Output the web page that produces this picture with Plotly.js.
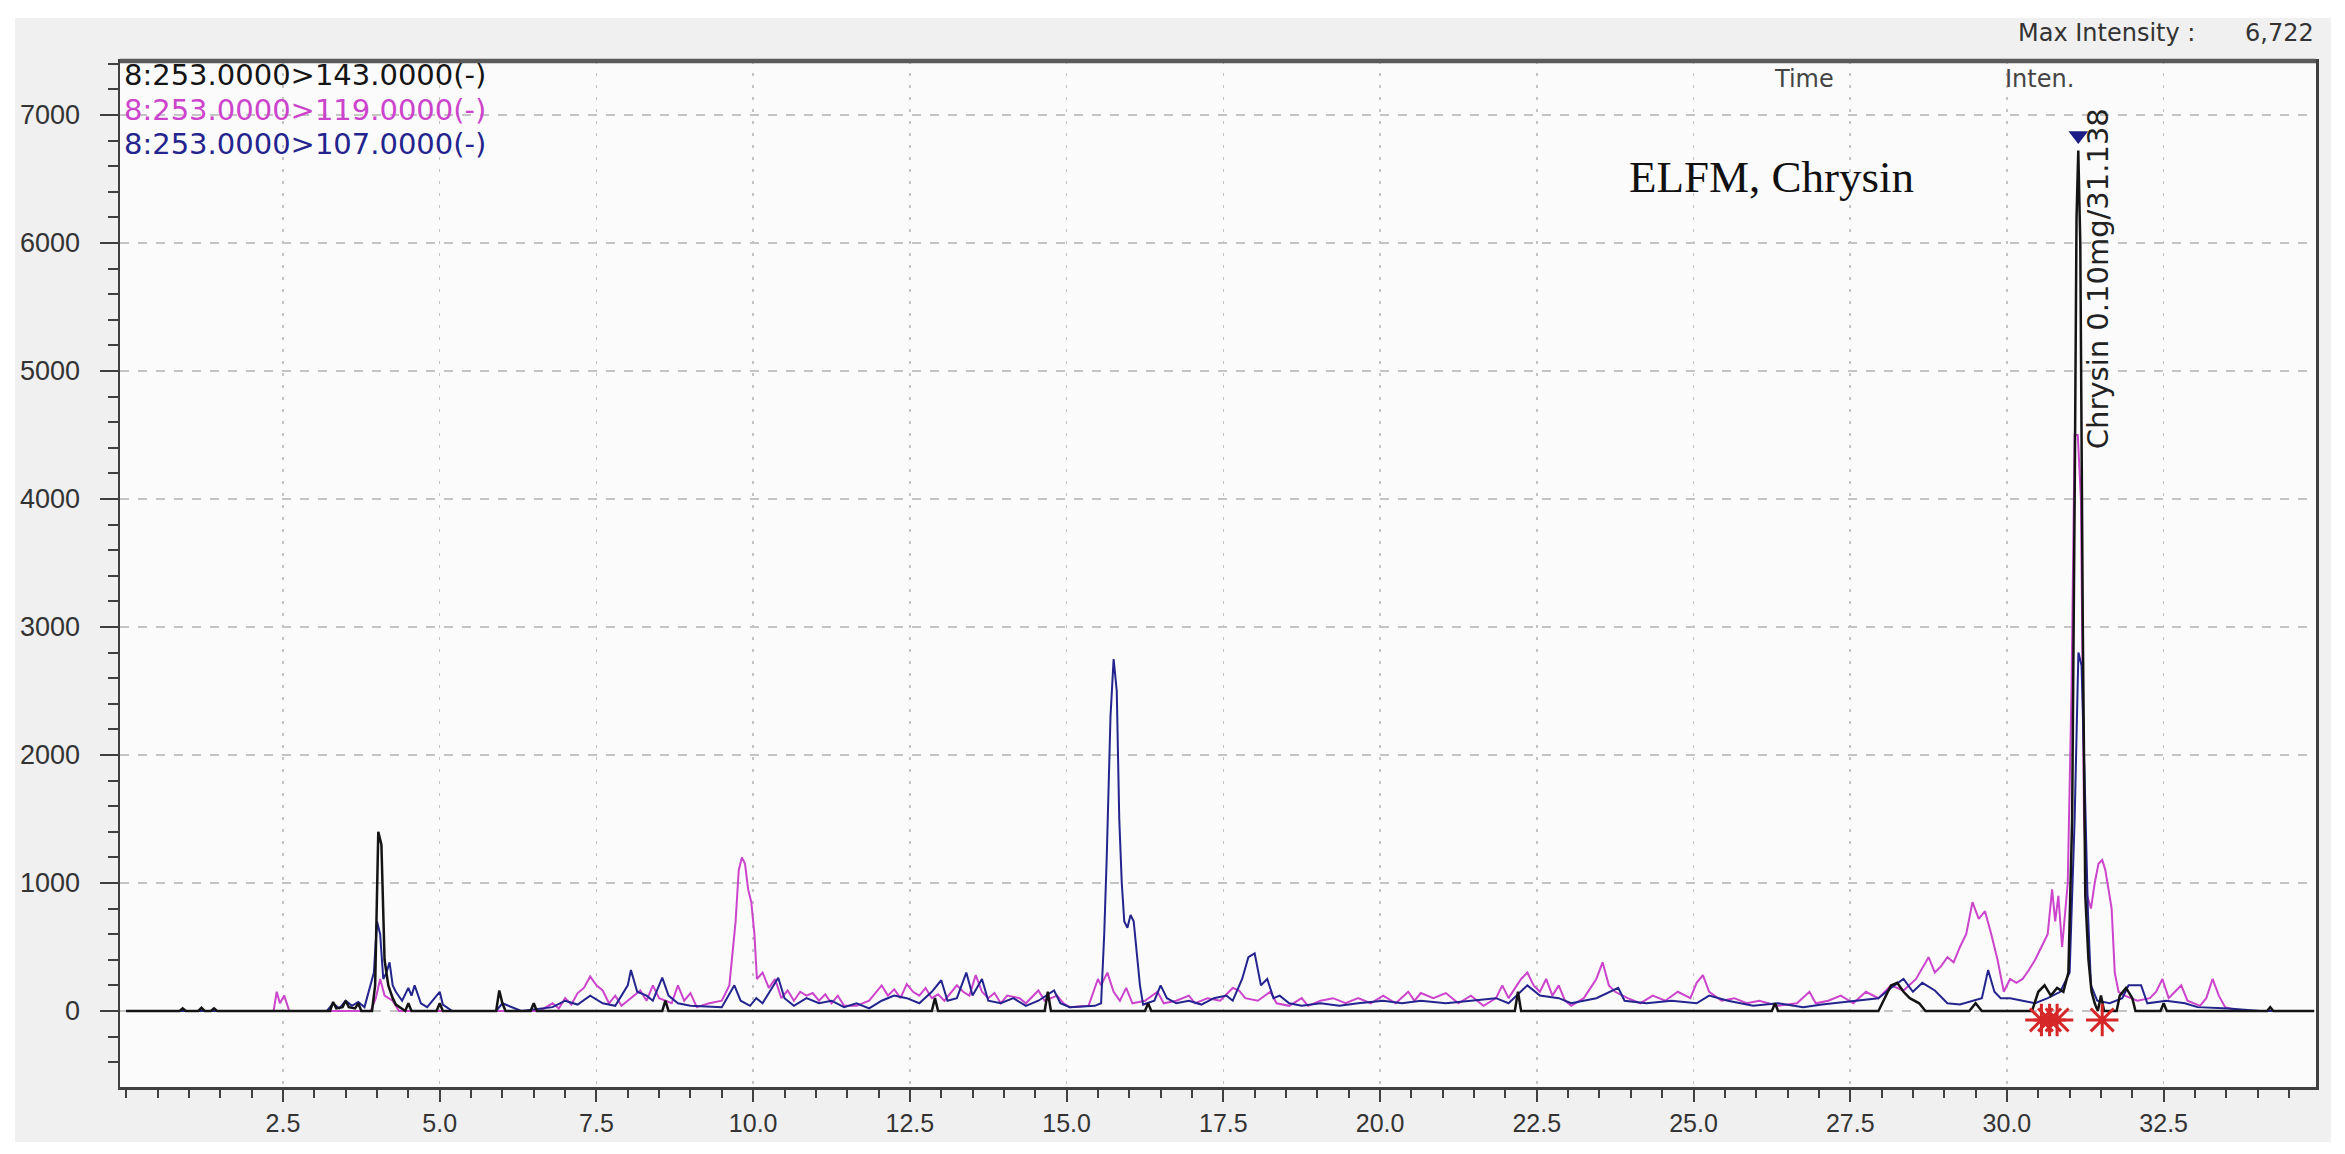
<!DOCTYPE html>
<html>
<head>
<meta charset="utf-8">
<script src="https://cdn.plot.ly/plotly-3.0.1.min.js"></script>
<style>
  html, body { margin: 0; padding: 0; background: #ffffff; }
  #chart { position: absolute; left: 15px; top: 18px; width: 2316px; height: 1124px; }
</style>
</head>
<body>
<div id="chart"></div>
<script>
// MRM channels 8:253.0000 > product ions
const channelNames = ["8:253.0000>143.0000(-)", "8:253.0000>119.0000(-)", "8:253.0000>107.0000(-)"];
const channelColors = ["#141414", "#cc44cc", "#24248e"];

// 253 > 143 (black)
const time143 = [
  0.0, 0.85, 0.9, 0.95, 1.15, 1.2, 1.25, 1.35, 1.4, 1.45,
  3.25, 3.3, 3.35, 3.45, 3.5, 3.55, 3.65, 3.7, 3.75, 3.92,
  3.97, 4.02, 4.07, 4.12, 4.18, 4.25, 4.3, 4.45, 4.5, 4.55,
  4.95, 5.0, 5.05, 5.9, 5.95, 6.0, 6.05, 6.45, 6.5, 6.55,
  8.55, 8.6, 8.65, 12.85, 12.9, 12.95, 14.65, 14.7, 14.75, 16.25,
  16.3, 16.35, 22.15, 22.2, 22.25, 26.25, 26.3, 26.35, 27.95, 28.05,
  28.15, 28.25, 28.35, 28.45, 28.6, 28.7, 29.4, 29.5, 29.6, 30.4,
  30.5, 30.6, 30.7, 30.8, 30.9, 30.98, 31.04, 31.08, 31.11, 31.138,
  31.17, 31.21, 31.25, 31.3, 31.35, 31.4, 31.45, 31.5, 31.55, 31.75,
  31.8, 31.9, 32.0, 32.05, 32.45, 32.5, 32.55, 34.15, 34.2, 34.25, 34.9
];
const inten143 = [
  0, 0, 20, 0, 0, 25, 0, 0, 20, 0,
  0, 70, 20, 30, 80, 30, 20, 60, 0, 0,
  200, 1400, 1300, 400, 200, 100, 50, 0, 60, 0,
  0, 60, 0, 0, 160, 60, 0, 0, 60, 0,
  0, 80, 0, 0, 100, 0, 0, 150, 0, 0,
  60, 0, 0, 150, 0, 0, 60, 0, 0, 100,
  200, 220, 150, 100, 60, 0, 0, 60, 0, 0,
  150, 200, 120, 180, 150, 300, 1500, 4000, 6200, 6722,
  6000, 3000, 900, 400, 150, 60, 0, 120, 0, 0,
  120, 180, 100, 0, 0, 60, 0, 0, 30, 0, 0
];

// 253 > 119 (magenta)
const time119 = [
  0.0, 2.35, 2.4, 2.45, 2.52, 2.6, 3.9, 3.98, 4.05, 4.12,
  4.25, 4.35, 6.6, 6.8, 6.9, 7.0, 7.1, 7.2, 7.3, 7.4,
  7.5, 7.6, 7.7, 7.8, 7.9, 8.2, 8.3, 8.4, 8.5, 8.7,
  8.8, 8.9, 9.0, 9.1, 9.3, 9.5, 9.62, 9.72, 9.77, 9.82,
  9.87, 9.92, 9.97, 10.02, 10.06, 10.15, 10.25, 10.35, 10.45, 10.55,
  10.65, 10.75, 10.85, 10.95, 11.05, 11.15, 11.25, 11.35, 11.45, 11.65,
  11.85, 12.05, 12.15, 12.25, 12.35, 12.45, 12.55, 12.65, 12.75, 12.85,
  12.95, 13.05, 13.25, 13.35, 13.45, 13.55, 13.65, 13.75, 13.85, 13.95,
  14.05, 14.25, 14.35, 14.55, 14.65, 14.85, 14.95, 15.05, 15.35, 15.5,
  15.55, 15.65, 15.75, 15.85, 15.95, 16.05, 16.25, 16.45, 16.55, 16.75,
  16.95, 17.05, 17.25, 17.45, 17.65, 17.75, 17.85, 18.05, 18.25, 18.35,
  18.55, 18.75, 18.85, 19.05, 19.25, 19.45, 19.65, 19.85, 20.05, 20.25,
  20.45, 20.55, 20.65, 20.85, 21.05, 21.25, 21.45, 21.65, 21.85, 21.95,
  22.05, 22.25, 22.35, 22.45, 22.55, 22.65, 22.75, 22.85, 22.95, 23.05,
  23.25, 23.45, 23.55, 23.65, 23.75, 23.95, 24.15, 24.35, 24.55, 24.75,
  24.95, 25.05, 25.15, 25.25, 25.45, 25.65, 25.85, 26.05, 26.35, 26.65,
  26.85, 26.95, 27.15, 27.35, 27.55, 27.75, 27.95, 28.15, 28.35, 28.55,
  28.75, 28.85, 28.95, 29.05, 29.15, 29.25, 29.35, 29.45, 29.55, 29.65,
  29.75, 29.85, 29.95, 30.05, 30.15, 30.25, 30.35, 30.45, 30.55, 30.65,
  30.72, 30.77, 30.82, 30.88, 30.97, 31.03, 31.08, 31.13, 31.18, 31.23,
  31.28, 31.34, 31.4, 31.46, 31.52, 31.57, 31.62, 31.67, 31.72, 31.78,
  31.88, 31.98, 32.08, 32.28, 32.38, 32.48, 32.58, 32.68, 32.78, 32.88,
  33.08, 33.18, 33.28, 33.38, 33.48, 33.7, 34.9
];
const inten119 = [
  0, 0, 150, 60, 120, 0, 0, 100, 250, 120,
  80, 0, 0, 60, 20, 100, 50, 140, 180, 270,
  200, 160, 60, 120, 40, 160, 80, 200, 100, 60,
  200, 80, 140, 30, 60, 80, 200, 700, 1100, 1200,
  1150, 950, 850, 600, 250, 300, 180, 250, 100, 160,
  80, 150, 120, 140, 80, 130, 60, 120, 40, 40,
  80, 200, 120, 170, 100, 210, 150, 120, 180, 100,
  130, 80, 200, 150, 120, 280, 150, 100, 140, 60,
  120, 100, 60, 160, 80, 120, 60, 30, 40, 250,
  200, 300, 150, 80, 180, 60, 80, 150, 60, 80,
  120, 60, 100, 80, 180, 160, 100, 80, 150, 60,
  40, 100, 40, 80, 100, 60, 100, 60, 120, 60,
  150, 80, 140, 100, 140, 60, 120, 40, 100, 200,
  100, 250, 300, 200, 150, 250, 120, 200, 80, 40,
  100, 250, 380, 200, 150, 100, 60, 120, 80, 150,
  100, 220, 280, 150, 80, 100, 60, 80, 40, 60,
  150, 60, 80, 120, 60, 150, 100, 200, 160, 250,
  420, 300, 350, 420, 380, 500, 600, 850, 720, 780,
  600, 400, 150, 250, 220, 250, 320, 400, 500, 600,
  950, 700, 900, 500, 1000, 2500, 4500, 4500, 4000, 1500,
  900, 800, 1000, 1150, 1180, 1100, 950, 800, 300, 150,
  120, 100, 80, 100, 150, 250, 100, 150, 200, 80,
  40, 100, 250, 120, 30, 0, 0
];

// 253 > 107 (navy)
const time107 = [
  0.0, 3.2, 3.3, 3.4, 3.5, 3.6, 3.7, 3.8, 3.95, 4.0,
  4.05, 4.1, 4.15, 4.2, 4.25, 4.3, 4.4, 4.5, 4.55, 4.6,
  4.7, 4.8, 5.0, 5.05, 5.2, 5.9, 6.0, 6.3, 6.8, 7.0,
  7.2, 7.4, 7.6, 7.8, 8.0, 8.05, 8.15, 8.3, 8.4, 8.55,
  8.65, 8.8, 9.0, 9.5, 9.7, 9.8, 9.95, 10.05, 10.15, 10.4,
  10.5, 10.65, 10.85, 11.05, 11.25, 11.45, 11.65, 11.85, 12.05, 12.25,
  12.45, 12.65, 12.85, 13.0, 13.1, 13.25, 13.4, 13.5, 13.65, 13.75,
  13.95, 14.15, 14.35, 14.55, 14.8, 14.9, 15.05, 15.45, 15.55, 15.6,
  15.64, 15.7, 15.75, 15.8, 15.84, 15.88, 15.92, 15.97, 16.02, 16.07,
  16.12, 16.17, 16.22, 16.4, 16.5, 16.6, 16.75, 16.95, 17.15, 17.35,
  17.55, 17.65, 17.8, 17.9, 18.0, 18.1, 18.2, 18.3, 18.4, 18.55,
  18.75, 19.05, 19.35, 19.65, 20.05, 20.35, 20.65, 21.05, 21.45, 21.85,
  22.05, 22.35, 22.55, 22.85, 23.05, 23.45, 23.8, 23.9, 24.25, 24.65,
  25.05, 25.25, 25.55, 25.95, 26.35, 26.75, 27.05, 27.55, 27.95, 28.15,
  28.35, 28.5, 28.65, 28.85, 29.05, 29.25, 29.45, 29.6, 29.7, 29.8,
  29.9, 30.05, 30.25, 30.45, 30.65, 30.85, 31.0, 31.08, 31.14, 31.19,
  31.24, 31.29, 31.34, 31.44, 31.64, 31.84, 31.94, 32.14, 32.24, 32.54,
  32.84, 33.04, 33.54, 34.04, 34.9
];
const inten107 = [
  0, 0, 60, 20, 80, 40, 70, 30, 300, 700,
  600, 250, 300, 380, 200, 150, 80, 180, 120, 200,
  60, 30, 150, 50, 0, 0, 60, 0, 30, 80,
  50, 120, 60, 40, 200, 320, 150, 120, 80, 260,
  120, 60, 40, 30, 200, 80, 40, 100, 60, 260,
  100, 40, 100, 60, 80, 30, 60, 20, 80, 120,
  100, 60, 150, 240, 80, 100, 300, 120, 250, 80,
  60, 100, 40, 80, 160, 60, 30, 40, 60, 600,
  1200, 2300, 2750, 2500, 1500, 1000, 700, 650, 750, 700,
  450, 200, 50, 80, 200, 100, 60, 80, 50, 100,
  120, 80, 250, 420, 450, 200, 250, 100, 120, 60,
  40, 60, 40, 60, 80, 60, 80, 60, 80, 100,
  60, 200, 120, 100, 60, 100, 180, 80, 60, 80,
  60, 120, 80, 40, 60, 30, 50, 80, 100, 180,
  250, 150, 220, 160, 60, 50, 80, 100, 320, 150,
  100, 100, 80, 60, 100, 150, 300, 1500, 2800, 2700,
  1800, 800, 200, 80, 60, 100, 200, 200, 60, 80,
  60, 30, 20, 0, 0
];

// peak integration marks (red stars) and the labelled peak
const markTimes = [30.55, 30.68, 30.8, 31.52];
const markInten = [-70, -70, -70, -70];
const peakTime = 31.138;
const peakTop = 6840;
const peakLabel = "Chrysin 0.10mg/31.138";
const maxIntensity = "6,722";

const xTicks = [2.5, 5.0, 7.5, 10.0, 12.5, 15.0, 17.5, 20.0, 22.5, 25.0, 27.5, 30.0, 32.5];
const yTicks = [0, 1000, 2000, 3000, 4000, 5000, 6000, 7000];

const sans = "Liberation Sans, Arial, sans-serif";
const wide = "DejaVu Sans, Verdana, sans-serif";

function chanTrace(t, v, i, w) {
  return {
    x: t, y: v, type: "scatter", mode: "lines",
    name: channelNames[i],
    line: { color: channelColors[i], width: w },
    hoverinfo: "skip",
  };
}

const traces = [
  chanTrace(time119, inten119, 1, 2),
  chanTrace(time107, inten107, 2, 2),
  chanTrace(time143, inten143, 0, 2.5),
  {
    x: markTimes, y: markInten, type: "scatter", mode: "markers",
    marker: { symbol: "asterisk-open", size: 27, line: { color: "#d42418", width: 3 } },
    hoverinfo: "skip",
  },
  {
    x: [peakTime], y: [peakTop], type: "scatter", mode: "markers",
    marker: { symbol: "triangle-down", size: 17, color: "#1c1c86" },
    hoverinfo: "skip",
  },
];

// legend lines as coloured text at the top left of the frame
const legendY = [0.986, 0.952, 0.919];
const annotations = channelNames.map((n, i) => ({
  text: n, xref: "paper", yref: "paper", x: 0.0, y: legendY[i],
  xanchor: "left", yanchor: "middle", showarrow: false, xshift: 2,
  font: { family: wide, size: 29, color: channelColors[i] },
}));

annotations.push(
  { text: "Max Intensity :", xref: "paper", yref: "paper", x: 0.946, y: 1.027,
    xanchor: "right", yanchor: "middle", showarrow: false,
    font: { family: wide, size: 24, color: "#333333" } },
  { text: maxIntensity, xref: "paper", yref: "paper", x: 1.0, y: 1.027,
    xanchor: "right", yanchor: "middle", showarrow: false,
    font: { family: wide, size: 24, color: "#333333" } },
  { text: "Time", xref: "paper", yref: "paper", x: 0.767, y: 0.982,
    xanchor: "center", yanchor: "middle", showarrow: false,
    font: { family: wide, size: 24, color: "#444444" } },
  { text: "Inten.", xref: "paper", yref: "paper", x: 0.874, y: 0.982,
    xanchor: "center", yanchor: "middle", showarrow: false,
    font: { family: wide, size: 24, color: "#444444" } },
  { text: "ELFM, Chrysin", xref: "paper", yref: "paper", x: 0.752, y: 0.887,
    xanchor: "center", yanchor: "middle", showarrow: false,
    font: { family: "Liberation Serif, Times New Roman, serif", size: 45, color: "#111111" } },
  { text: peakLabel, xref: "x", yref: "y", x: peakTime, y: 5720, xshift: 20,
    textangle: -90, xanchor: "center", yanchor: "middle", showarrow: false,
    font: { family: wide, size: 29, color: "#222222" } }
);

const layout = {
  width: 2316,
  height: 1124,
  paper_bgcolor: "#f0f0f0",
  plot_bgcolor: "#fbfbfb",
  margin: { l: 105, r: 15, t: 43, b: 55 },
  showlegend: false,
  xaxis: {
    range: [-0.1, 34.93],
    tickvals: xTicks,
    ticktext: xTicks.map((v) => v.toFixed(1)),
    ticks: "outside", ticklen: 12, tickwidth: 2, tickcolor: "#404040",
    minor: { dtick: 0.5, tick0: 0, ticks: "outside", ticklen: 8, tickwidth: 2, tickcolor: "#404040", showgrid: false },
    showgrid: true, gridcolor: "#c4c4c4", gridwidth: 1.5, griddash: "3px,9px",
    zeroline: false,
    showline: true, mirror: true, linecolor: "#404040", linewidth: 2.5,
    tickfont: { family: sans, size: 25, color: "#333333" },
    ticklabelstandoff: 0,
  },
  yaxis: {
    range: [-594, 7422],
    tickvals: yTicks,
    ticks: "outside", ticklen: 18, tickwidth: 2, tickcolor: "#404040",
    minor: { dtick: 200, tick0: 0, ticks: "outside", ticklen: 10, tickwidth: 2, tickcolor: "#404040", showgrid: false },
    showgrid: true, gridcolor: "#c4c4c4", gridwidth: 1.5, griddash: "9px,9px",
    zeroline: false,
    showline: true, mirror: true, linecolor: "#404040", linewidth: 2.5,
    tickfont: { family: sans, size: 27, color: "#333333" },
    ticklabelstandoff: 14,
  },
  shapes: [
    { type: "line", xref: "paper", yref: "paper", x0: 0, x1: 1, y0: 1, y1: 1,
      line: { color: "#5a5a5a", width: 4.5 } },
  ],
  annotations: annotations,
};

Plotly.newPlot("chart", traces, layout, { displayModeBar: false, staticPlot: true });
</script>
</body>
</html>
